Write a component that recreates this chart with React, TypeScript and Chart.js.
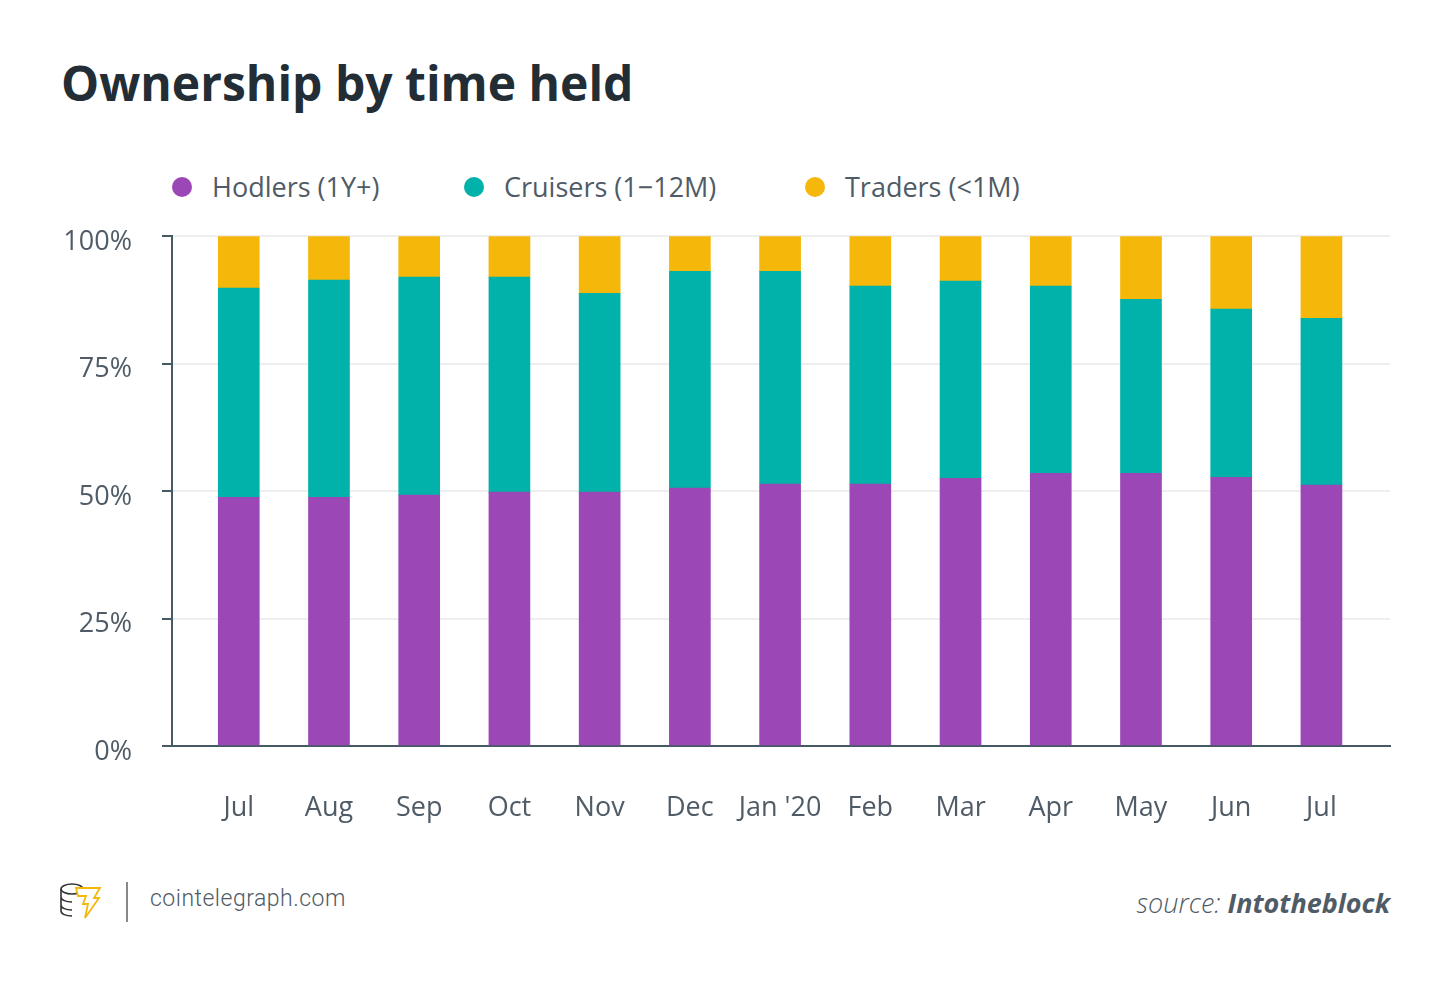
import React, { useEffect, useRef } from "react";
import { Chart, registerables } from "chart.js";
Chart.register(...registerables);

const categories = ["Jul", "Aug", "Sep", "Oct", "Nov", "Dec", "Jan '20", "Feb", "Mar", "Apr", "May", "Jun", "Jul"];
const hodlers = [48.8, 48.8, 49.2, 49.8, 49.8, 50.6, 51.4, 51.4, 52.5, 53.5, 53.5, 52.7, 51.2];
const cruisers = [41.0, 42.6, 42.8, 42.2, 39.0, 42.5, 41.7, 38.8, 38.7, 36.7, 34.1, 33.0, 32.7];
const traders = [10.2, 8.6, 8.0, 8.0, 11.2, 6.9, 6.9, 9.8, 8.8, 9.8, 12.4, 14.3, 16.1];
const yTicks = ["0%", "25%", "50%", "75%", "100%"];

const FONT = "'Open Sans', sans-serif";
const AX = "#455a64";
const TXT = "#4f5b66";

const pts = (arr: number[]) => arr.map((y, i) => ({ x: i, y }));

export default function App() {
  const ref = useRef<HTMLCanvasElement>(null);
  useEffect(() => {
    document.body.style.margin = "0";
    const c = new Chart(ref.current!, {
      type: "bar",
      data: {
        datasets: [
          { label: "Hodlers (1Y+)", data: pts(hodlers), backgroundColor: "#9c47b6" },
          { label: "Cruisers (1−12M)", data: pts(cruisers), backgroundColor: "#00b2a9" },
          { label: "Traders (<1M)", data: pts(traders), backgroundColor: "#f5b70a" },
        ],
      },
      options: {
        animation: false,
        responsive: false,
        devicePixelRatio: 1,
        layout: { padding: { left: 0, right: 60, top: 0, bottom: 0 } },
        plugins: { legend: { display: false }, tooltip: { enabled: false } },
        datasets: { bar: { barThickness: 41 } },
        scales: {
          x: {
            type: "linear",
            stacked: true,
            offset: false,
            min: -0.74,
            max: 12.76,
            grid: { display: false, drawTicks: false },
            border: { color: AX, width: 2 },
            afterBuildTicks: (s: any) => { s.ticks = categories.map((_, i) => ({ value: i })); },
            ticks: {
              padding: 46,
              color: TXT,
              font: { family: FONT, size: 27 },
              callback: (v: any) => categories[Math.round(v)],
            },
            afterFit: (s: any) => { s.height = 94; },
          },
          y: {
            stacked: true,
            min: 0,
            max: 100,
            grid: { color: "#eeeeee", lineWidth: 2, tickColor: AX, tickLength: 10, tickWidth: 2 },
            border: { color: AX, width: 2 },
            ticks: {
              stepSize: 25,
              padding: 30,
              labelOffset: 6,
              color: TXT,
              font: { family: FONT, size: 27 },
              callback: (v: any) => yTicks[Math.round(v / 25)],
            },
            afterFit: (s: any) => { s.width = 172; },
          },
        },
      },
    });
    return () => c.destroy();
  }, []);

  const legend = [
    ["Hodlers (1Y+)", "#9c47b6", 172],
    ["Cruisers (1−12M)", "#00b2a9", 464],
    ["Traders (<1M)", "#f5b70a", 805],
  ] as const;

  return (
    <div style={{ position: "relative", width: 1450, height: 982, background: "#fff", fontFamily: FONT, overflow: "hidden" }}>
      <div style={{ position: "absolute", left: 61, top: 50, fontSize: 48, fontWeight: 700, color: "#232d35" }}>Ownership by time held</div>
      {legend.map(([t, col, x]) => (
        <div key={t} style={{ position: "absolute", left: x, top: 168, display: "flex", alignItems: "center", fontSize: 27, color: TXT }}>
          <span style={{ width: 20, height: 20, borderRadius: 10, background: col, display: "inline-block", marginRight: 20 }} />
          {t}
        </div>
      ))}
      <canvas ref={ref} width={1450} height={650} style={{ position: "absolute", left: 0, top: 190 }} />
      <svg style={{ position: "absolute", left: 58, top: 880 }} width={46} height={44} viewBox="0 0 46 44">
        <g fill="none" stroke="#333" strokeWidth="1.6">
          <ellipse cx="14" cy="9" rx="11" ry="5" />
          <path d="M3 9v8c0 3 5 5 11 5M3 17v8c0 3 5 5 11 5M3 25v6c0 3 5 5 11 5" />
        </g>
        <path d="M18 8h24l-6 10h5l-14 20 3-14h-5l3-8h-8z" fill="#fff" stroke="#f5b70a" strokeWidth="1.8" />
      </svg>
      <div style={{ position: "absolute", left: 126, top: 882, width: 2, height: 40, background: "#888" }} />
      <div style={{ position: "absolute", left: 150, top: 885, fontSize: 23, color: "#4f5b66", fontFamily: "Roboto, sans-serif", fontWeight: 300, letterSpacing: 0.5 }}>cointelegraph.com</div>
      <div style={{ position: "absolute", right: 60, top: 884, fontSize: 27, color: "#4f5b66", fontStyle: "italic" }}>
        <span style={{ fontWeight: 300 }}>source: </span><span style={{ fontWeight: 700 }}>Intotheblock</span>
      </div>
    </div>
  );
}
